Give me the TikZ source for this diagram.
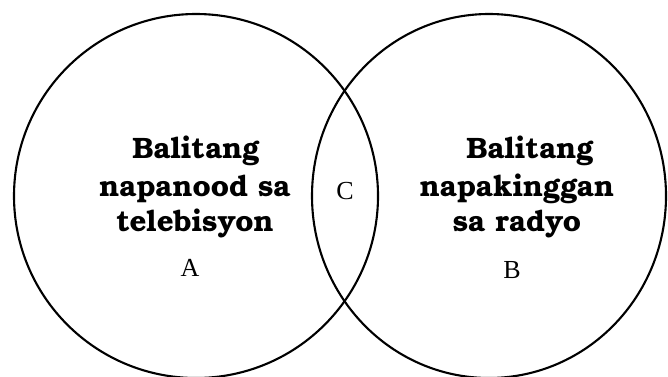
\documentclass[tikz,border=0pt]{standalone}
\usepackage{fontspec}
\setmainfont{Liberation Serif}
\newfontfamily\bonum{texgyrebonum}[Extension=.otf, UprightFont=*-regular, BoldFont=*-bold]
\begin{document}
\begin{tikzpicture}[x=1pt,y=1pt,
  ring/.style={draw=black,line width=2.1pt},
  lbl/.style={font=\bonum\bfseries\fontsize{29.5}{35}\selectfont,inner sep=0pt,anchor=base},
  letter/.style={font=\fontsize{26}{30}\selectfont,inner sep=0pt,anchor=base}]
\useasboundingbox (0,0) rectangle (668,376);
\draw[ring] (196,180) ellipse [x radius=182,y radius=182];
\draw[ring] (489,180) ellipse [x radius=177,y radius=182];
\node[lbl] (l1) at (196,218) {Balitang};
\node[lbl] (l2) at (195,180) {napanood sa};
\node[lbl] (l3) at (195,145) {telebisyon};
\node[lbl] (r1) at (530,218) {Balitang};
\node[lbl] (r2) at (517,180) {napakinggan};
\node[lbl] (r3) at (517,145) {sa radyo};
\node[letter] (a) at (190,100) {A};
\node[letter] (b) at (512,98) {B};
\node[letter] (c) at (345,177) {C};
\end{tikzpicture}
\end{document}
